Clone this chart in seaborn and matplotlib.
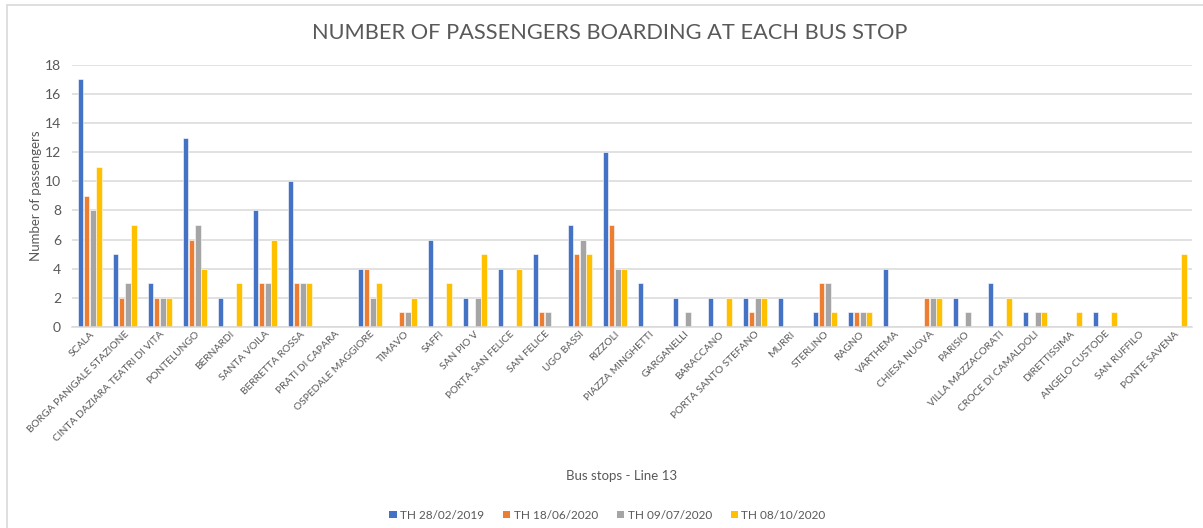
import matplotlib
matplotlib.use("Agg")
import matplotlib.pyplot as plt
import seaborn as sns
import pandas as pd
from matplotlib.lines import Line2D
from matplotlib.patches import Patch

stops = ["SCALA", "BORGA PANIGALE STAZIONE", "CINTA DAZIARA TEATRI DI VITA", "PONTELUNGO",
         "BERNARDI", "SANTA VOILA", "BERRETTA ROSSA", "PRATI DI CAPARA", "OSPEDALE MAGGIORE",
         "TIMAVO", "SAFFI", "SAN PIO V", "PORTA SAN FELICE", "SAN FELICE", "UGO BASSI",
         "RIZZOLI", "PIAZZA MINGHETTI", "GARGANELLI", "BARACCANO", "PORTA SANTO STEFANO",
         "MURRI", "STERLINO", "RAGNO", "VARTHEMA", "CHIESA NUOVA", "PARISIO",
         "VILLA MAZZACORATI", "CROCE DI CAMALDOLI", "DIRETTISSIMA", "ANGELO CUSTODE",
         "SAN RUFFILO", "PONTE SAVENA"]

series_names = ["TH 28/02/2019", "TH 18/06/2020", "TH 09/07/2020", "TH 08/10/2020"]

s_2019_02_28 = [17, 5, 3, 13, 2, 8, 10, 0, 4, 0, 6, 2, 4, 5, 7, 12, 3, 2, 2, 2, 2, 1, 1, 4, 0, 2, 3, 1, 0, 1, 0, 0]
s_2020_06_18 = [9, 2, 2, 6, 0, 3, 3, 0, 4, 1, 0, 0, 0, 1, 5, 7, 0, 0, 0, 1, 0, 3, 1, 0, 2, 0, 0, 0, 0, 0, 0, 0]
s_2020_07_09 = [8, 3, 2, 7, 0, 3, 3, 0, 2, 1, 0, 2, 0, 1, 6, 4, 0, 1, 0, 2, 0, 3, 1, 0, 2, 1, 0, 1, 0, 0, 0, 0]
s_2020_10_08 = [11, 7, 2, 4, 3, 6, 3, 0, 3, 2, 3, 5, 4, 0, 5, 4, 0, 0, 2, 2, 0, 1, 1, 0, 2, 0, 2, 1, 1, 1, 0, 5]

colors = ["#4472C4", "#ED7D31", "#A5A5A5", "#FFC000"]

rows = []
for name, vals in zip(series_names, [s_2019_02_28, s_2020_06_18, s_2020_07_09, s_2020_10_08]):
    for st, v in zip(stops, vals):
        rows.append({"stop": st, "value": v, "series": name})
df = pd.DataFrame(rows)

sns.set_theme(style="white")
plt.rcParams["font.family"] = ["Lato", "DejaVu Sans"]
txt = "#595959"

fig = plt.figure(figsize=(12.03, 5.28), dpi=100)
ax = fig.add_axes([0.060, 0.381, 0.931, 0.496])

sns.barplot(data=df, x="stop", y="value", hue="series", order=stops, hue_order=series_names,
            palette=colors, width=0.72, gap=0.15, edgecolor="white", linewidth=0.4,
            errorbar=None, ax=ax, legend=False, saturation=1)

ax.set_ylim(0, 18)
ax.set_xlim(-0.5, len(stops) - 0.5)
ax.set_yticks(range(0, 19, 2))
ax.yaxis.grid(True, color="#D9D9D9", linewidth=1.1)
ax.set_axisbelow(True)
for s in ["top", "right", "left"]:
    ax.spines[s].set_visible(False)
ax.spines["bottom"].set_color("#D9D9D9")
ax.spines["bottom"].set_linewidth(1.1)
ax.tick_params(axis="y", labelsize=10, colors=txt, length=0, pad=8)
ax.tick_params(axis="x", labelsize=7.4, colors=txt, length=0, pad=2)
plt.setp(ax.get_xticklabels(), rotation=45, ha="right", rotation_mode="anchor")

ax.set_ylabel("Number of passengers", fontsize=9.5, color=txt)
ax.yaxis.set_label_coords(-0.027, 0.5)
ax.set_xlabel("")
fig.text(0.517, 0.098, "Bus stops - Line 13", fontsize=9.5, color=txt, ha="center", va="center")
fig.text(0.507, 0.938, "NUMBER OF PASSENGERS BOARDING AT EACH BUS STOP", fontsize=15.7,
         color=txt, ha="center", va="center")

handles = [Patch(facecolor=c, edgecolor="none") for c in colors]
fig.legend(handles, series_names, loc="center", bbox_to_anchor=(0.505, 0.024), ncol=4,
           frameon=False, fontsize=8.5, handlelength=0.6, handleheight=0.6,
           handletextpad=0.3, columnspacing=1.6, labelcolor=txt)

fig.add_artist(Line2D([7 / 1203, 1.0], [1 - 5 / 528, 1 - 5 / 528], color="#D9D9D9", linewidth=1.2,
                      transform=fig.transFigure))
fig.add_artist(Line2D([7 / 1203, 7 / 1203], [0.0, 1 - 5 / 528], color="#D9D9D9", linewidth=1.2,
                      transform=fig.transFigure))

fig.savefig("out.png", dpi=100)
